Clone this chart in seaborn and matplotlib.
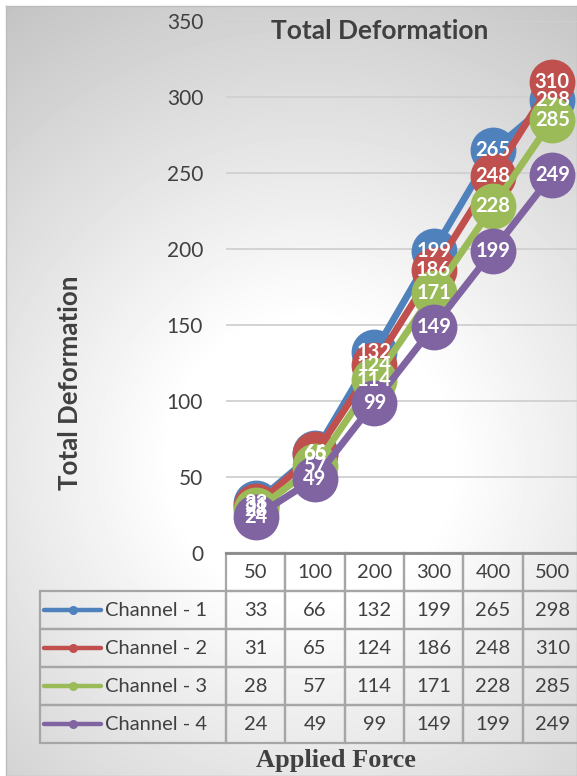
import numpy as np
import pandas as pd
import matplotlib
matplotlib.use("Agg")
import matplotlib.pyplot as plt
from matplotlib.table import Table
from matplotlib.lines import Line2D
import seaborn as sns

# ---- data -------------------------------------------------------------
forces = ["50", "100", "200", "300", "400", "500"]
channels = ["Channel - 1", "Channel - 2", "Channel - 3", "Channel - 4"]
ch1 = [33, 66, 132, 199, 265, 298]
ch2 = [31, 65, 124, 186, 248, 310]
ch3 = [28, 57, 114, 171, 228, 285]
ch4 = [24, 49, 99, 149, 199, 249]
colors = ["#4F81BD", "#C0504D", "#9BBB59", "#8064A2"]
y_ticks = [0, 50, 100, 150, 200, 250, 300, 350]

series = [ch1, ch2, ch3, ch4]
df = pd.DataFrame(
    [(f, ch, v) for ch, vals in zip(channels, series) for f, v in zip(forces, vals)],
    columns=["force", "channel", "value"],
)

sns.set_style("white")
plt.rcParams["font.family"] = ["Lato", "DejaVu Sans"]
TXT = "#404040"

W, H = 577, 776
fig = plt.figure(figsize=(W / 100, H / 100), dpi=100)
fig.patch.set_facecolor("white")

# ---- chart-area background: soft radial fill inside a thin frame -------
x0p, y0p = 6, 6
bg = fig.add_axes([x0p / W, 0, 1 - x0p / W, 1 - y0p / H])
gx, gy = np.meshgrid(np.arange(x0p, W), np.arange(y0p, H))
r = np.hypot(gx - 310, gy - 460)
shade = 255 - 62 * np.clip((r - 140) / 420, 0, 1)
bg.imshow(shade, cmap="gray", vmin=0, vmax=255, aspect="auto",
          interpolation="bilinear")
bg.set_xticks([])
bg.set_yticks([])
for s in bg.spines.values():
    s.set_color("#bdbdbd")
    s.set_linewidth(1.0)

# ---- plot area ---------------------------------------------------------
left, right_px = 226, 582
top_px, bot_px = 21, 553
ax_w, ax_h = right_px - left, bot_px - top_px
ax = fig.add_axes([left / W, 1 - bot_px / H, ax_w / W, ax_h / H])
ax.patch.set_alpha(0)

sns.pointplot(data=df, x="force", y="value", hue="channel", order=forces,
              hue_order=channels, palette=colors, errorbar=None,
              markers="o", linestyles="-", markersize=33, linewidth=5,
              markeredgewidth=0, legend=False, ax=ax)

for vals in series:
    for i, v in enumerate(vals):
        ax.text(i, v, str(v), ha="center", va="center", color="white",
                fontsize=14.5, fontweight="bold", zorder=20, clip_on=False)

ax.set_ylim(0, 350)
ax.set_xlim(-0.5, len(forces) - 0.5)
ax.set_yticks(y_ticks)
ax.set_yticklabels([str(t) for t in y_ticks])
ax.tick_params(axis="y", length=0, pad=16.5, labelsize=15, labelcolor=TXT)
ax.tick_params(axis="x", bottom=False, labelbottom=False)
ax.set_xlabel("")
ax.set_ylabel("")
ax.grid(axis="y", color="#d0d0d0", linewidth=1.3)
ax.set_axisbelow(True)
for side in ["left", "right", "top"]:
    ax.spines[side].set_visible(False)
ax.spines["bottom"].set_color("#8a8a8a")
ax.spines["bottom"].set_linewidth(2)
ax.spines["bottom"].set_zorder(30)

# ---- data table below the axis (cell sizes in axes fractions) ----------
col_w = 1.0 / len(forces)
label_w = (left - 40) / ax_w
row_h = 38 / ax_h
tb = Table(ax, bbox=[0, -5 * row_h, 1.0, 5 * row_h])
edge = "#a6a6a6"
for j, f in enumerate(forces):
    tb.add_cell(0, j, width=col_w, height=row_h, text=f, loc="center",
                facecolor="none", edgecolor=edge)
for i, (ch, vals) in enumerate(zip(channels, series), start=1):
    c = tb.add_cell(i, -1, width=label_w, height=row_h, text=ch, loc="left",
                    facecolor="none", edgecolor=edge)
    c.PAD = 65 / (left - 40)
    for j, v in enumerate(vals):
        tb.add_cell(i, j, width=col_w, height=row_h, text=str(v), loc="center",
                    facecolor="none", edgecolor=edge)
tb.auto_set_font_size(False)
tb.set_fontsize(14.5)
tb.set_clip_on(False)
for cell in tb.get_celld().values():
    cell.set_linewidth(1.6)
    cell.set_clip_on(False)
    cell.get_text().set_color(TXT)
ax.add_table(tb)

# legend keys inside the row-label cells
for i, col in enumerate(colors):
    yc = -(i + 1.5) * row_h
    xa, xb = (44 - left) / ax_w, (101 - left) / ax_w
    ax.add_line(Line2D([xa, xb], [yc, yc], transform=ax.transAxes,
                       color=col, linewidth=3.2, solid_capstyle="round",
                       clip_on=False, zorder=25))
    ax.add_line(Line2D([(xa + xb) / 2], [yc], transform=ax.transAxes,
                       color=col, marker="o", markersize=6.5,
                       markeredgewidth=0, clip_on=False, zorder=26))

# ---- titles ------------------------------------------------------------
fig.text(380 / W, 1 - 31 / H, "Total Deformation", ha="center", va="center",
         fontsize=19, fontweight="bold", color=TXT)
fig.text(70 / W, 1 - 383 / H, "Total Deformation", ha="center", va="center",
         rotation=90, fontsize=18.6, fontweight="bold", color=TXT)
fig.text(336 / W, 1 - 760 / H, "Applied Force", ha="center", va="center",
         fontsize=19, fontweight="bold", color=TXT,
         family=["Liberation Serif", "DejaVu Serif"])

fig.savefig("out.png", dpi=100)
